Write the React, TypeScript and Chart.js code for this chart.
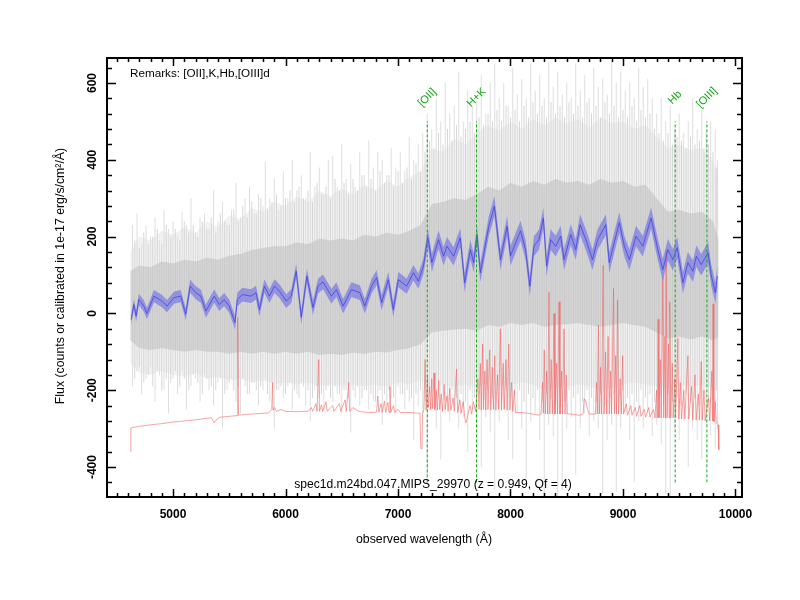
import React, { useEffect, useRef } from 'react';
import { Chart, registerables } from 'chart.js';

Chart.register(...registerables);

const FONT = '"Liberation Sans", Arial, Helvetica, sans-serif';

// ---- axes ----
const X_MIN = 4413;
const X_MAX = 10058;
const Y_MIN = -478;
const Y_MAX = 665;
const xTickLabels = [5000, 6000, 7000, 8000, 9000, 10000];
const yTickLabels = [-400, -200, 0, 200, 400, 600];
const xMinorStep = 100;
const yMinorStep = 40;

// ---- raw (grey) spectrum envelope, sampled ----
const greyWl = [4620, 4700, 4800, 4900, 5000, 5100, 5200, 5300, 5400, 5500, 5600, 5700, 5800, 5900, 6000, 6100, 6200, 6300, 6400, 6500, 6600, 6700, 6800, 6900, 7000, 7100, 7200, 7300, 7400, 7500, 7600, 7700, 7800, 7900, 8000, 8100, 8200, 8300, 8400, 8500, 8600, 8700, 8800, 8900, 9000, 9100, 9200, 9300, 9400, 9500, 9600, 9700, 9800, 9850];
const greyOuterUpper = [160, 200, 190, 215, 205, 225, 210, 240, 225, 255, 245, 275, 265, 290, 280, 305, 290, 320, 305, 325, 310, 335, 320, 345, 330, 355, 370, 430, 420, 455, 440, 470, 490, 475, 500, 480, 505, 490, 510, 495, 505, 485, 510, 495, 500, 480, 490, 460, 430, 440, 425, 430, 400, 330];
const greyOuterLower = [-130, -155, -160, -150, -160, -165, -155, -170, -165, -175, -170, -180, -175, -185, -180, -185, -180, -190, -185, -190, -185, -190, -185, -190, -180, -185, -175, -190, -185, -190, -185, -195, -180, -190, -185, -180, -185, -200, -195, -190, -185, -190, -200, -195, -185, -180, -185, -190, -195, -185, -190, -185, -195, -150];
const greyCoreUpper = [110, 125, 120, 135, 130, 140, 135, 145, 140, 150, 155, 165, 170, 175, 175, 185, 180, 195, 190, 195, 190, 205, 200, 210, 205, 215, 230, 285, 290, 300, 295, 310, 330, 320, 340, 330, 345, 335, 350, 340, 345, 335, 350, 340, 345, 330, 335, 300, 265, 270, 260, 265, 240, 190];
const greyCoreLower = [-70, -90, -95, -90, -95, -100, -95, -100, -100, -105, -100, -105, -100, -105, -100, -105, -100, -108, -105, -108, -102, -105, -100, -102, -95, -90, -80, -50, -45, -42, -40, -45, -30, -35, -25, -30, -25, -35, -30, -28, -25, -30, -35, -30, -25, -30, -35, -50, -65, -60, -68, -60, -70, -60];

// large noise excursions of the raw spectrum: [wavelength, high, low]
const greySpikes = [
  [4640, 230, -190], [4680, 260, -150], [4720, 180, -210], [4760, 230, -170], [4800, 200, -140], [4840, 250, -230], [4880, 190, -160], [4920, 270, -200],
  [4960, 220, -260], [5000, 240, -170], [5040, 200, -210], [5080, 265, -150], [5120, 230, -250], [5160, 300, -190], [5200, 210, -170], [5240, 250, -230],
  [5280, 260, -160], [5320, 220, -200], [5360, 320, -240], [5400, 240, -180], [5440, 290, -300], [5480, 230, -200], [5520, 270, -170], [5560, 340, -230],
  [5600, 250, -260], [5640, 300, -190], [5680, 330, -210], [5720, 260, -180], [5760, 310, -240], [5800, 280, -200], [5820, 395, -170], [5860, 300, -230],
  [5900, 350, -300], [5940, 270, -200], [5980, 370, -220], [6020, 300, -190], [6060, 400, -250], [6100, 320, -210], [6140, 360, -180], [6180, 300, -240],
  [6220, 420, -280], [6260, 330, -200], [6300, 380, -220], [6340, 310, -250], [6380, 400, -190], [6420, 410, -230], [6460, 330, -210], [6500, 440, -260],
  [6540, 350, -200], [6580, 390, -310], [6620, 330, -220], [6660, 420, -240], [6700, 360, -200], [6740, 450, -250], [6780, 380, -230], [6820, 420, -210],
  [6860, 400, -290], [6900, 360, -240], [6940, 430, -220], [6980, 380, -260], [7020, 420, -210], [7060, 370, -250], [7100, 460, -230], [7140, 400, -330],
  [7180, 440, -240], [7220, 470, -260], [7260, 520, -420], [7300, 480, -250], [7340, 560, -300], [7380, 500, -380], [7420, 600, -260], [7460, 520, -280],
  [7500, 540, -240], [7540, 630, -300], [7580, 500, -270], [7620, 580, -360], [7660, 540, -250], [7700, 560, -300], [7740, 620, -400], [7780, 520, -270],
  [7820, 600, -310], [7860, 650, -460], [7900, 560, -280], [7940, 600, -250], [7980, 540, -330], [8020, 640, -380], [8060, 570, -260], [8100, 610, -300],
  [8140, 560, -430], [8180, 650, -280], [8220, 580, -260], [8260, 620, -330], [8300, 560, -470], [8340, 655, -290], [8380, 590, -320], [8420, 630, -478],
  [8460, 570, -460], [8500, 600, -300], [8540, 560, -270], [8580, 650, -420], [8620, 580, -300], [8660, 620, -260], [8700, 560, -320], [8740, 640, -280],
  [8780, 590, -300], [8820, 610, -470], [8860, 570, -330], [8900, 655, -290], [8940, 600, -465], [8980, 630, -300], [9020, 580, -260], [9060, 600, -330],
  [9100, 560, -440], [9140, 640, -280], [9180, 590, -300], [9220, 610, -260], [9260, 560, -320], [9300, 520, -290], [9340, 560, -340], [9380, 500, -470],
  [9420, 540, -478], [9460, 480, -300], [9500, 520, -330], [9540, 470, -280], [9580, 500, -400], [9620, 560, -300], [9660, 480, -330], [9700, 530, -380],
  [9740, 470, -290], [9780, 500, -320], [9820, 480, -350], [9840, 400, -300],
];

// smaller noise excursions of the raw spectrum: [wavelength, high, low]
const greyMinorSpikes = [
  [4660, 190, -170], [4700, 170, -140], [4740, 210, -180], [4780, 180, -160], [4820, 200, -190], [4860, 220, -150], [4900, 180, -200], [4940, 230, -170],
  [4980, 200, -180], [5020, 220, -150], [5060, 190, -190], [5100, 240, -170], [5140, 210, -200], [5180, 230, -160], [5220, 200, -180], [5260, 240, -210],
  [5300, 220, -170], [5340, 250, -190], [5380, 210, -200], [5420, 260, -170], [5460, 240, -210], [5500, 230, -180], [5540, 270, -200], [5580, 240, -190],
  [5620, 280, -170], [5660, 250, -210], [5700, 290, -180], [5740, 260, -200], [5780, 300, -190], [5840, 270, -210], [5880, 290, -180], [5920, 310, -200],
  [5960, 280, -190], [6000, 300, -210], [6040, 320, -180], [6080, 290, -200], [6120, 330, -220], [6160, 300, -190], [6200, 320, -200], [6240, 290, -220],
  [6280, 340, -190], [6320, 310, -210], [6360, 330, -200], [6400, 300, -220], [6440, 350, -190], [6480, 320, -210], [6520, 340, -200], [6560, 310, -220],
  [6600, 350, -200], [6640, 320, -190], [6680, 360, -220], [6720, 330, -200], [6760, 350, -210], [6800, 320, -230], [6840, 370, -200], [6880, 340, -210],
  [6920, 360, -200], [6960, 330, -220], [7000, 370, -190], [7040, 340, -210], [7080, 380, -200], [7120, 350, -220], [7160, 390, -210], [7200, 370, -200],
  [7240, 420, -230], [7280, 450, -210], [7320, 430, -200], [7360, 470, -220], [7400, 440, -210], [7440, 480, -230], [7480, 450, -200], [7520, 490, -220],
  [7560, 460, -210], [7600, 480, -230], [7640, 500, -200], [7680, 470, -220], [7720, 510, -210], [7760, 490, -230], [7800, 520, -200], [7840, 500, -220],
  [7880, 530, -210], [7920, 500, -230], [7960, 540, -200], [8000, 510, -220], [8040, 530, -210], [8080, 500, -200], [8120, 540, -230], [8160, 510, -210],
  [8200, 550, -220], [8240, 520, -200], [8280, 540, -230], [8320, 510, -210], [8360, 550, -220], [8400, 520, -240], [8440, 540, -210], [8480, 510, -230],
  [8520, 550, -200], [8560, 520, -220], [8600, 540, -210], [8640, 510, -230], [8680, 550, -200], [8720, 520, -220], [8760, 540, -230], [8800, 510, -210],
  [8840, 550, -240], [8880, 520, -220], [8920, 540, -210], [8960, 510, -230], [9000, 530, -200], [9040, 510, -220], [9080, 540, -210], [9120, 500, -230],
  [9160, 530, -200], [9200, 510, -220], [9240, 520, -210], [9280, 480, -230], [9320, 470, -220], [9360, 450, -240], [9400, 470, -210], [9440, 440, -230],
  [9480, 460, -220], [9520, 450, -240], [9560, 430, -210], [9600, 460, -230], [9640, 440, -220], [9680, 450, -240], [9720, 430, -210], [9760, 440, -230],
  [9800, 420, -220], [9830, 380, -200],
];

// ---- smoothed (blue) spectrum ----
const blueWl = [4628, 4652, 4672, 4696, 4741, 4768, 4830, 4902, 4946, 5009, 5068, 5113, 5152, 5202, 5247, 5292, 5366, 5411, 5455, 5500, 5551, 5571, 5616, 5693, 5738, 5768, 5812, 5857, 5902, 5946, 6006, 6051, 6095, 6140, 6190, 6244, 6289, 6333, 6408, 6452, 6512, 6586, 6661, 6705, 6765, 6810, 6854, 6914, 6958, 7003, 7077, 7137, 7181, 7226, 7265, 7301, 7360, 7405, 7435, 7494, 7554, 7592, 7643, 7673, 7702, 7732, 7807, 7857, 7911, 7970, 8000, 8089, 8134, 8172, 8208, 8253, 8292, 8321, 8357, 8402, 8446, 8476, 8536, 8580, 8619, 8670, 8729, 8774, 8848, 8878, 8922, 8967, 9012, 9057, 9116, 9176, 9250, 9310, 9354, 9399, 9443, 9482, 9533, 9577, 9622, 9652, 9696, 9756, 9786, 9821, 9839];
const blueFlux = [-16, 23, -7, 36, 19, 0, 45, 32, 19, 41, 45, -2, 71, 54, 45, 6, 45, 23, 36, 19, -24, 36, 49, 45, 54, 10, 71, 45, 71, 58, 32, 45, 110, -10, 97, 15, 71, 82, 45, 62, 19, 62, 54, 19, 71, 93, 28, 88, 10, 88, 71, 106, 84, 123, 197, 132, 192, 149, 175, 149, 197, 80, 166, 132, 205, 106, 227, 279, 140, 227, 150, 215, 166, 71, 175, 192, 248, 123, 192, 175, 201, 140, 205, 166, 231, 192, 140, 192, 231, 132, 184, 236, 175, 140, 201, 175, 248, 166, 114, 166, 140, 171, 80, 132, 110, 149, 127, 158, 97, 54, 97];
const blueErr = [14, 14, 15, 15, 15, 15, 16, 16, 16, 16, 16, 16, 17, 17, 17, 17, 17, 17, 17, 17, 18, 18, 18, 18, 18, 18, 18, 18, 18, 18, 18, 18, 19, 19, 19, 19, 19, 19, 19, 19, 19, 19, 19, 19, 19, 20, 20, 20, 20, 20, 20, 20, 20, 21, 24, 24, 24, 24, 24, 24, 25, 25, 25, 25, 25, 25, 26, 26, 26, 26, 26, 26, 26, 26, 26, 26, 27, 27, 27, 27, 27, 27, 27, 27, 27, 27, 27, 27, 27, 27, 27, 27, 27, 27, 27, 27, 28, 28, 28, 28, 28, 28, 28, 28, 28, 28, 28, 28, 28, 28, 28];

// ---- error (red) spectrum: [wavelength, flux] ----
const redSpectrum = [
  [4622, -360], [4625, -298], [4700, -294], [4800, -290], [4900, -287], [5000, -283], [5100, -280], [5200, -277], [5300, -273], [5340, -272],
  [5365, -285], [5390, -275], [5420, -270], [5500, -268], [5570, -266], [5575, -10], [5582, -265], [5650, -263], [5750, -261], [5850, -259],
  [5878, -250], [5884, -180], [5890, -252], [5900, -245], [5920, -255], [5960, -250], [6000, -255], [6100, -256], [6200, -255], [6230, -245],
  [6240, -255], [6270, -235], [6280, -255], [6295, -120], [6302, -255], [6320, -238], [6330, -255], [6360, -230], [6370, -255], [6420, -240],
  [6430, -255], [6480, -235], [6490, -255], [6530, -225], [6540, -255], [6562, -180], [6570, -255], [6600, -245], [6650, -255], [6700, -257],
  [6780, -258], [6810, -257], [6820, -215], [6830, -257], [6850, -235], [6860, -258], [6880, -228], [6890, -258], [6910, -232], [6920, -258],
  [6928, -190], [6935, -258], [6960, -240], [6970, -258], [7000, -250], [7020, -258], [7100, -258], [7195, -260], [7203, -352], [7213, -352],
  [7218, -262], [7230, -250], [7241, -120], [7250, -252], [7262, -160], [7270, -245], [7282, -190], [7290, -250], [7300, -170], [7308, -248],
  [7320, -155], [7328, -250], [7340, -200], [7350, -252], [7362, -175], [7370, -250], [7385, -210], [7395, -255], [7410, -185], [7420, -250],
  [7435, -215], [7445, -255], [7460, -195], [7470, -252], [7490, -220], [7500, -255], [7520, -145], [7530, -258], [7550, -225], [7560, -260],
  [7580, -230], [7595, -275], [7605, -285], [7620, -265], [7640, -240], [7655, -262], [7670, -230], [7690, -255], [7710, -170], [7720, -250],
  [7732, -130], [7740, -252], [7752, -80], [7760, -250], [7772, -150], [7780, -252], [7792, -120], [7800, -250], [7815, -95], [7825, -252],
  [7838, -140], [7848, -250], [7860, -110], [7870, -252], [7885, -160], [7895, -250], [7910, -40], [7920, -252], [7935, -130], [7945, -250],
  [7960, -120], [7970, -252], [7985, -80], [7995, -252], [8010, -180], [8020, -255], [8035, -200], [8045, -258], [8100, -258], [8150, -260],
  [8200, -262], [8250, -265], [8272, -262], [8285, -180], [8292, -260], [8300, -95], [8310, -262], [8322, -150], [8330, -262], [8342, 55],
  [8350, -262], [8362, -120], [8372, -262], [8387, 0], [8395, -262], [8410, -130], [8418, -262], [8432, 30], [8440, -262], [8455, -150],
  [8463, -262], [8476, -40], [8485, -262], [8495, -160], [8505, -262], [8540, -262], [8580, -264], [8620, -265], [8645, -262], [8655, -222],
  [8670, -228], [8685, -250], [8700, -262], [8730, -262], [8755, -262], [8765, -180], [8772, -262], [8782, -30], [8790, -262], [8800, -140],
  [8808, -262], [8824, 125], [8832, -262], [8845, -100], [8855, -262], [8868, -60], [8878, -262], [8890, -150], [8898, -262], [8916, 65],
  [8924, -262], [8935, -110], [8943, -262], [8952, 35], [8960, -262], [8975, -170], [8985, -262], [8997, -110], [9005, -262], [9030, -235],
  [9040, -265], [9070, -240], [9080, -265], [9110, -245], [9120, -268], [9150, -240], [9160, -268], [9190, -250], [9200, -270], [9230, -245],
  [9240, -270], [9270, -250], [9285, -272], [9298, -200], [9305, -272], [9312, -15], [9320, -272], [9332, -120], [9340, -272], [9354, 95],
  [9362, -272], [9372, -60], [9378, -272], [9384, 165], [9392, -272], [9404, -80], [9410, -272], [9416, 30], [9425, -272], [9438, -130],
  [9446, -272], [9460, -170], [9468, -272], [9488, -65], [9496, -275], [9510, -180], [9520, -275], [9540, -200], [9550, -275], [9577, -110],
  [9585, -275], [9610, -190], [9620, -278], [9640, -160], [9650, -278], [9670, -210], [9680, -278], [9696, -125], [9705, -278], [9720, -200],
  [9730, -280], [9760, -220], [9770, -280], [9790, -150], [9796, -280], [9801, 25], [9808, -282], [9820, -230], [9830, -285], [9845, -290],
  [9852, -355],
];

// ---- identified lines ----
const lineNames = ['[OII]', 'H+K', 'Hb', '[OIII]'];
const lineWl = [7260, 7698, 9464, 9746];
const lineTop = 500;
const lineBottom = -440;
const lineLabelFlux = 562;

const remarksText = 'Remarks: [OII],K,Hb,[OIII]d';
const specText = 'spec1d.m24bd.047.MIPS_29970 (z = 0.949, Qf = 4)';
const xTitle = 'observed wavelength (\u00C5)';
const yTitle = 'Flux (counts or calibrated in 1e-17 erg/s/cm\u00B2/\u00C5)';

const GREEN = '#14a814';

const pts = (xs: number[], ys: number[]) => xs.map((x, i) => ({ x, y: ys[i] }));
const spikePts = (list: number[][]) => {
  const out: any[] = [];
  list.forEach(([w, hi, lo]) => {
    out.push({ x: w, y: lo }, { x: w, y: hi }, { x: w, y: null });
  });
  return out;
};

const framePlugin = {
  id: 'specFrame',
  afterDraw(chart: any) {
    const { ctx, chartArea: a, scales } = chart;
    const xs = scales.x;
    const ys = scales.y;
    ctx.save();
    // green labels
    ctx.fillStyle = GREEN;
    ctx.font = `11px ${FONT}`;
    ctx.textAlign = 'center';
    ctx.textBaseline = 'middle';
    lineNames.forEach((name, i) => {
      const px = xs.getPixelForValue(lineWl[i]);
      const py = ys.getPixelForValue(lineLabelFlux);
      ctx.save();
      ctx.translate(px, py);
      ctx.rotate(-Math.PI / 4);
      ctx.fillText(name, 0, 0);
      ctx.restore();
    });

    // frame
    ctx.strokeStyle = '#000';
    ctx.lineWidth = 2;
    ctx.strokeRect(a.left, a.top, a.right - a.left, a.bottom - a.top);

    // ticks on all four sides, pointing inward
    ctx.lineWidth = 1.5;
    ctx.beginPath();
    const xStart = Math.ceil(X_MIN / xMinorStep) * xMinorStep;
    for (let v = xStart; v <= X_MAX; v += xMinorStep) {
      const px = Math.round(xs.getPixelForValue(v)) + 0.5;
      const major = v % 1000 === 0;
      const len = major ? 8 : 4;
      ctx.moveTo(px, a.bottom);
      ctx.lineTo(px, a.bottom - len);
      ctx.moveTo(px, a.top);
      ctx.lineTo(px, a.top + len);
    }
    const yStart = Math.ceil(Y_MIN / yMinorStep) * yMinorStep;
    for (let v = yStart; v <= Y_MAX; v += yMinorStep) {
      const py = Math.round(ys.getPixelForValue(v)) + 0.5;
      const major = v % 200 === 0;
      const len = major ? 9 : 5;
      ctx.moveTo(a.left, py);
      ctx.lineTo(a.left + len, py);
      ctx.moveTo(a.right, py);
      ctx.lineTo(a.right - len, py);
    }
    ctx.stroke();

    // tick labels
    ctx.fillStyle = '#000';
    ctx.font = `bold 12px ${FONT}`;
    ctx.textAlign = 'center';
    ctx.textBaseline = 'middle';
    xTickLabels.forEach((v) => {
      ctx.fillText(String(v), xs.getPixelForValue(v), a.bottom + 18);
    });
    yTickLabels.forEach((v) => {
      ctx.save();
      ctx.translate(a.left - 14, ys.getPixelForValue(v));
      ctx.rotate(-Math.PI / 2);
      ctx.fillText(String(v), 0, 0);
      ctx.restore();
    });

    // titles
    ctx.font = `12.3px ${FONT}`;
    ctx.fillText(xTitle, 424, 540);
    ctx.save();
    ctx.translate(61, 276);
    ctx.rotate(-Math.PI / 2);
    ctx.fillText(yTitle, 0, 0);
    ctx.restore();

    // annotations
    ctx.font = `11.7px ${FONT}`;
    ctx.textAlign = 'left';
    ctx.fillText(remarksText, a.left + 23, a.top + 16);
    ctx.font = `12.1px ${FONT}`;
    ctx.textAlign = 'center';
    ctx.fillText(specText, 433, a.bottom - 12);
    ctx.restore();
  },
};

export default function App() {
  const ref = useRef<HTMLCanvasElement | null>(null);
  useEffect(() => {
    document.body.style.margin = '0';
    const canvas = ref.current;
    if (!canvas) return;

    const lineData: any[] = [];
    lineWl.forEach((w) => {
      lineData.push({ x: w, y: lineBottom }, { x: w, y: lineTop }, { x: w, y: null });
    });

    const base = { pointRadius: 0, tension: 0, spanGaps: false };
    const none = 'rgba(0,0,0,0)';
    const chart = new Chart(canvas, {
      type: 'line',
      data: {
        datasets: [
          { ...base, data: pts(greyWl, greyOuterUpper), borderWidth: 0, borderColor: none, backgroundColor: '#f1f1f1', fill: '+1', order: 9 },
          { ...base, data: pts(greyWl, greyOuterLower), borderWidth: 0, borderColor: none, fill: false, order: 9 },
          { ...base, data: spikePts(greySpikes), borderWidth: 1, borderColor: '#dedede', fill: false, order: 8.6 },
          { ...base, data: spikePts(greyMinorSpikes), borderWidth: 1, borderColor: '#d6d6d6', fill: false, order: 8.5 },
          { ...base, data: pts(greyWl, greyCoreUpper), borderWidth: 0, borderColor: none, backgroundColor: 'rgba(185,185,185,0.5)', fill: '+1', order: 8 },
          { ...base, data: pts(greyWl, greyCoreLower), borderWidth: 0, borderColor: none, fill: false, order: 8 },
          { ...base, data: redSpectrum.map(([x, y]) => ({ x, y })), borderWidth: 0.9, borderColor: 'rgba(240,100,100,0.65)', fill: false, order: 6 },
          { ...base, data: blueWl.map((x, i) => ({ x, y: blueFlux[i] + blueErr[i] })), borderWidth: 0, borderColor: none, backgroundColor: 'rgba(105,105,230,0.6)', fill: '+1', order: 5 },
          { ...base, data: blueWl.map((x, i) => ({ x, y: blueFlux[i] - blueErr[i] })), borderWidth: 0, borderColor: none, fill: false, order: 5 },
          { ...base, data: pts(blueWl, blueFlux), borderWidth: 0.8, borderColor: 'rgba(60,60,225,0.9)', fill: false, order: 4 },
          { ...base, data: lineData, borderWidth: 1, borderColor: GREEN, borderDash: [3, 2], fill: false, order: 3 },
        ],
      },
      options: {
        animation: false,
        responsive: false,
        maintainAspectRatio: false,
        layout: { padding: { left: 107, right: 58, top: 58, bottom: 103 } },
        scales: {
          x: { type: 'linear', min: X_MIN, max: X_MAX, display: false },
          y: { type: 'linear', min: Y_MIN, max: Y_MAX, display: false },
        },
        plugins: {
          legend: { display: false },
          tooltip: { enabled: false },
        },
        events: [],
      },
      plugins: [framePlugin],
    } as any);
    return () => chart.destroy();
  }, []);

  return (
    <div style={{ width: 800, height: 600, background: '#fff' }}>
      <canvas ref={ref} width={800} height={600} style={{ display: 'block', width: 800, height: 600 }} />
    </div>
  );
}
